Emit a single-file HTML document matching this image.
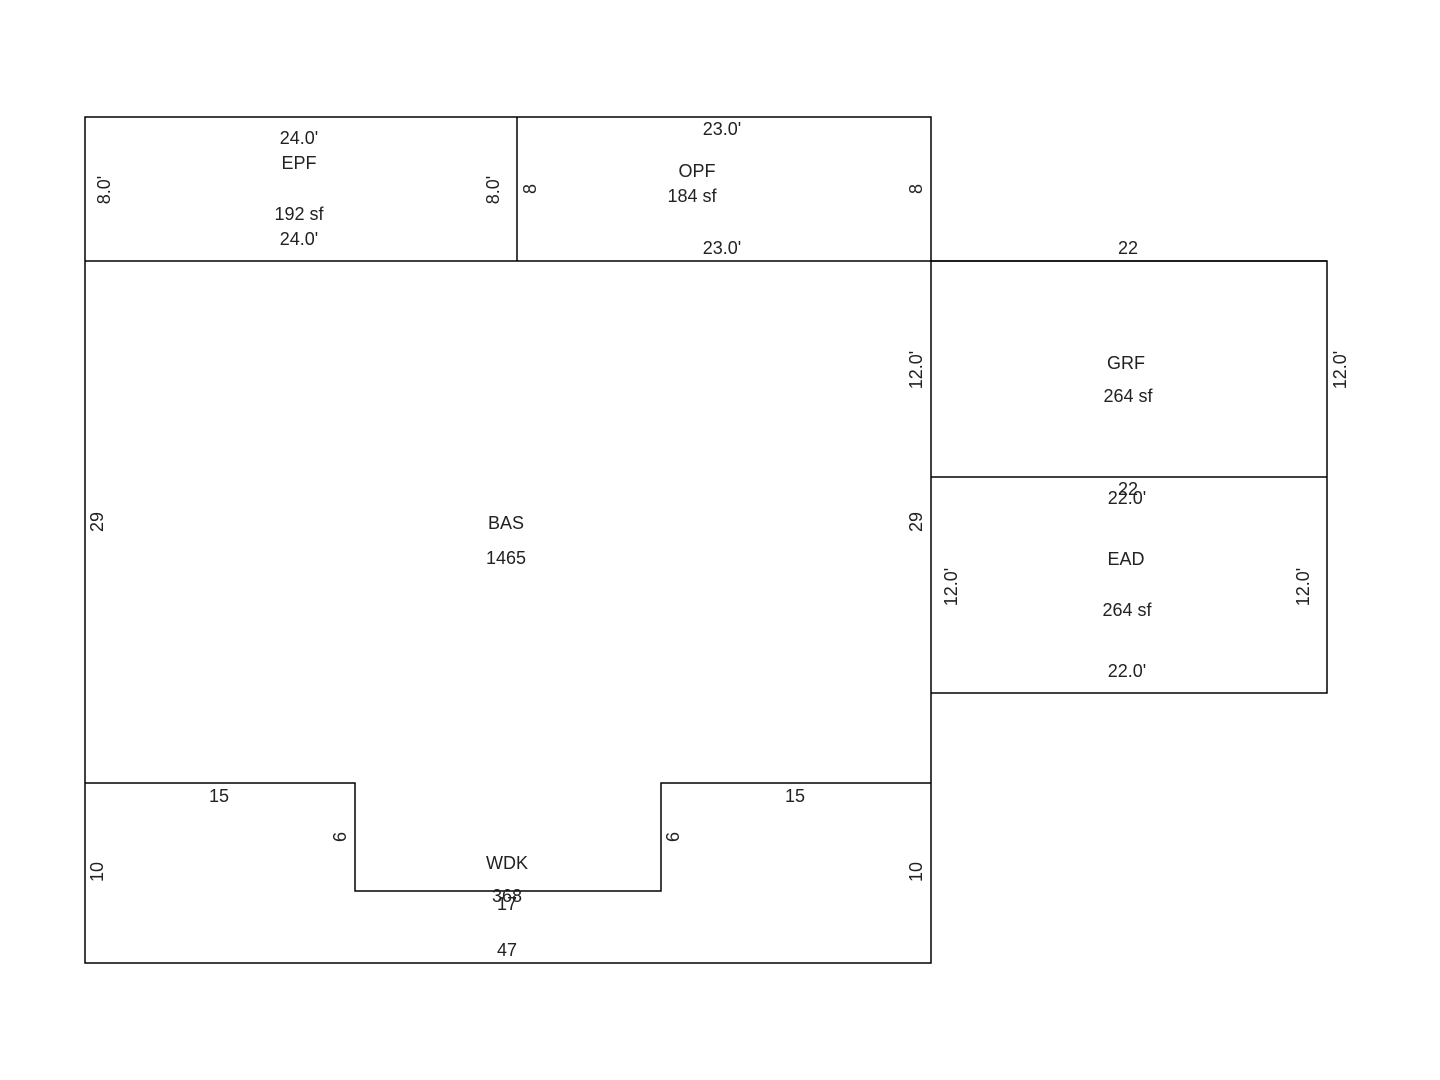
<!DOCTYPE html>
<html><head><meta charset="utf-8"><style>
html,body{margin:0;padding:0;background:#fff;}
svg{display:block;}
text{font-family:"Liberation Sans",sans-serif;font-size:18px;fill:#222;text-anchor:middle;dominant-baseline:middle;}
</style></head><body>
<svg width="1440" height="1080" viewBox="0 0 1440 1080">
<g stroke="#000" stroke-width="1.5" fill="none">
<rect x="85" y="117" width="846" height="846"/>
<line x1="517" y1="117" x2="517" y2="261"/>
<line x1="85" y1="261" x2="1327" y2="261"/>
<polyline points="931,261 1327,261 1327,693 931,693"/>
<line x1="931" y1="477" x2="1327" y2="477"/>
<polyline points="85,783 355,783 355,891 661,891 661,783 931,783"/>
</g>
<g transform="translate(0,1)">
<text x="299" y="138">24.0'</text>
<text x="299" y="163">EPF</text>
<text x="299" y="214">192 sf</text>
<text x="299" y="239">24.0'</text>
<text x="722" y="129">23.0'</text>
<text x="697" y="171">OPF</text>
<text x="692" y="196">184 sf</text>
<text x="722" y="248">23.0'</text>
<text x="1128" y="248">22</text>
<text x="1126" y="363">GRF</text>
<text x="1128" y="396">264 sf</text>
<text x="1128" y="489">22</text>
<text x="1127" y="498">22.0'</text>
<text x="1126" y="559">EAD</text>
<text x="1127" y="610">264 sf</text>
<text x="1127" y="671">22.0'</text>
<text x="506" y="523">BAS</text>
<text x="506" y="558">1465</text>
<text x="219" y="796">15</text>
<text x="795" y="796">15</text>
<text x="507" y="863">WDK</text>
<text x="507" y="896">368</text>
<text x="507" y="904">17</text>
<text x="507" y="950">47</text>
</g>
<g>
<text transform="translate(105,190) rotate(-90)">8.0'</text>
<text transform="translate(494,190) rotate(-90)">8.0'</text>
<text transform="translate(531,189) rotate(-90)">8</text>
<text transform="translate(917,189) rotate(-90)">8</text>
<text transform="translate(917,370) rotate(-90)">12.0'</text>
<text transform="translate(1341,370) rotate(-90)">12.0'</text>
<text transform="translate(98,522) rotate(-90)">29</text>
<text transform="translate(917,522) rotate(-90)">29</text>
<text transform="translate(952,587) rotate(-90)">12.0'</text>
<text transform="translate(1304,587) rotate(-90)">12.0'</text>
<text transform="translate(341,837) rotate(-90)">6</text>
<text transform="translate(674,837) rotate(-90)">6</text>
<text transform="translate(98,872) rotate(-90)">10</text>
<text transform="translate(917,872) rotate(-90)">10</text>
</g>
</svg>
</body></html>
